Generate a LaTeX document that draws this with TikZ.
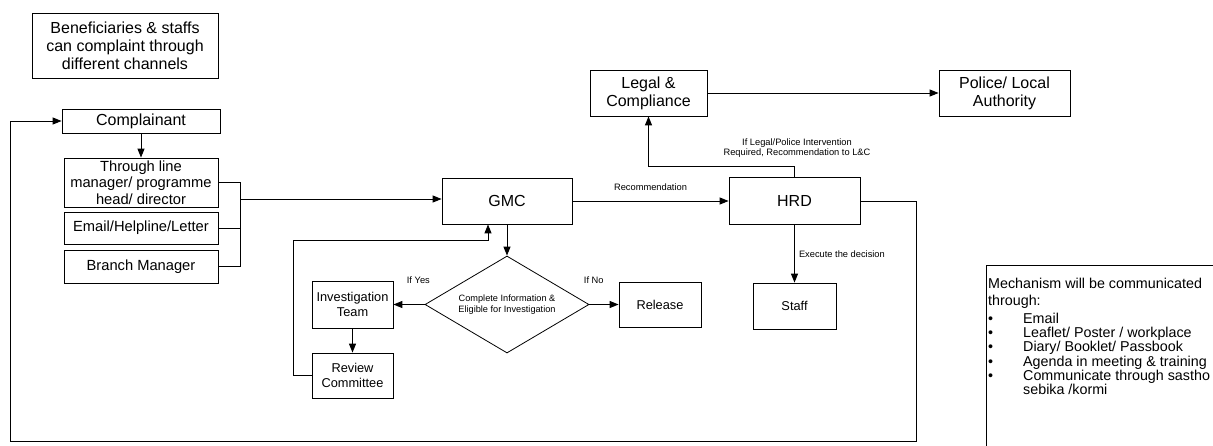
\documentclass[tikz,border=0pt]{standalone}
\usepackage{fontspec}
\setmainfont{Liberation Sans}
\usetikzlibrary{shapes.geometric,arrows.meta}
\begin{document}
\begin{tikzpicture}[x=1pt, y=-1pt, >={Triangle[length=9pt,width=7pt]},
    box/.style={draw, line width=0.8pt, inner sep=0pt, align=center},
    bigtxt/.style={font=\fontsize{16}{18}\selectfont},
    chantxt/.style={font=\fontsize{14.7}{16.7}\selectfont},
    midtxt/.style={font=\fontsize{12.8}{14.3}\selectfont},
    lbl/.style={font=\fontsize{9.3}{10.7}\selectfont, inner sep=0pt, align=center},
    link/.style={line width=1pt}]
    \clip (0,0) rectangle (1213,445);
    \node[box, bigtxt, minimum width=186pt, minimum height=65pt] (benef) at (125,45.5) {Beneficiaries \& staffs\\can complaint through\\different channels};
    \node[box, bigtxt, minimum width=158pt, minimum height=24pt] (compl) at (141,121) {Complainant};
    \node[box, chantxt, minimum width=154pt, minimum height=49pt] (lineman) at (141,182.5) {Through line\\manager/ programme\\head/ director};
    \node[box, chantxt, minimum width=154pt, minimum height=32pt] (email) at (141,228) {Email/Helpline/Letter};
    \node[box, chantxt, minimum width=154pt, minimum height=33pt] (branch) at (141,266.5) {Branch Manager};
    \node[box, bigtxt, minimum width=130pt, minimum height=46pt] (gmc) at (507,201) {GMC};
    \node[box, bigtxt, minimum width=131pt, minimum height=47pt] (hrd) at (794.5,201) {HRD};
    \node[box, bigtxt, minimum width=117pt, minimum height=46pt] (legal) at (648.5,93) {Legal \&\\Compliance};
    \node[box, bigtxt, minimum width=131pt, minimum height=46pt] (police) at (1004.5,93) {Police/ Local\\Authority};
    \node[box, midtxt, minimum width=83pt, minimum height=46pt] (staff) at (794.5,306) {Staff};
    \node[box, diamond, aspect=1.69, minimum width=164pt, minimum height=97pt, font=\fontsize{9.2}{11.7}\selectfont] (check) at (507,304.5) {Complete Information \&\\Eligible for Investigation};
    \node[box, midtxt, minimum width=81pt, minimum height=47pt] (invest) at (352.5,304.5) {Investigation\\Team};
    \node[box, midtxt, minimum width=81pt, minimum height=45pt] (review) at (352.5,375.5) {Review\\Committee};
    \node[box, midtxt, minimum width=82pt, minimum height=45pt] (release) at (660,304.5) {Release};
    \node[lbl] (lclabel) at (797,148) {If Legal/Police Intervention\\Required, Recommendation to L\&C};
    \node[draw, line width=0.8pt, anchor=north west, minimum width=260pt, minimum height=200pt] (mech) at (986,265) {};
    \node[anchor=north west, inner sep=0pt, align=left, font=\fontsize{14.3}{14.2}\selectfont] (mechtxt) at (988,277.5)
        {Mechanism will be communicated\\[3pt]through:\\[4pt]
         \makebox[35pt][l]{\textbullet}Email\\
         \makebox[35pt][l]{\textbullet}Leaflet/ Poster / workplace\\
         \makebox[35pt][l]{\textbullet}Diary/ Booklet/ Passbook\\
         \makebox[35pt][l]{\textbullet}Agenda in meeting \& training\\
         \makebox[35pt][l]{\textbullet}Communicate through sastho\\
         \makebox[35pt][l]{}sebika /kormi};

    \coordinate (join) at (240,199);
    \coordinate (fb) at (293,240);
    \coordinate (loopR) at (916,441);
    \coordinate (loopL) at (10,441);

    \draw[link, ->] (compl) -- (lineman);
    \draw[link] (lineman.east) -| (join) (email.east) -- (email.east -| join) (branch.east) -| (join);
    \draw[link, ->] (join) -- (join -| gmc.west);
    \draw[link, ->] (gmc) -- node[lbl, above=10pt] {Recommendation} (hrd);
    \draw[link, ->] (hrd.north) -- ++(0,-11) -| (legal.south);
    \draw[link, ->] (legal) -- (police);
    \draw[link, ->] (hrd) -- node[lbl, right=4pt] {Execute the decision} (staff);
    \draw[link, ->] (gmc) -- (check);
    \draw[link, ->] (check) -- node[lbl, pos=0.2, above=20pt] {If Yes} (invest);
    \draw[link, ->] (check) -- node[lbl, pos=0.15, above=20pt] {If No} (release);
    \draw[link, ->] (invest) -- (review);
    \draw[link, ->] (review.west) -| (fb) -| ([xshift=-19pt]gmc.south);
    \draw[link, ->] (hrd.east) -| (loopR) -- (loopL) |- (compl.west);
\end{tikzpicture}
\end{document}
